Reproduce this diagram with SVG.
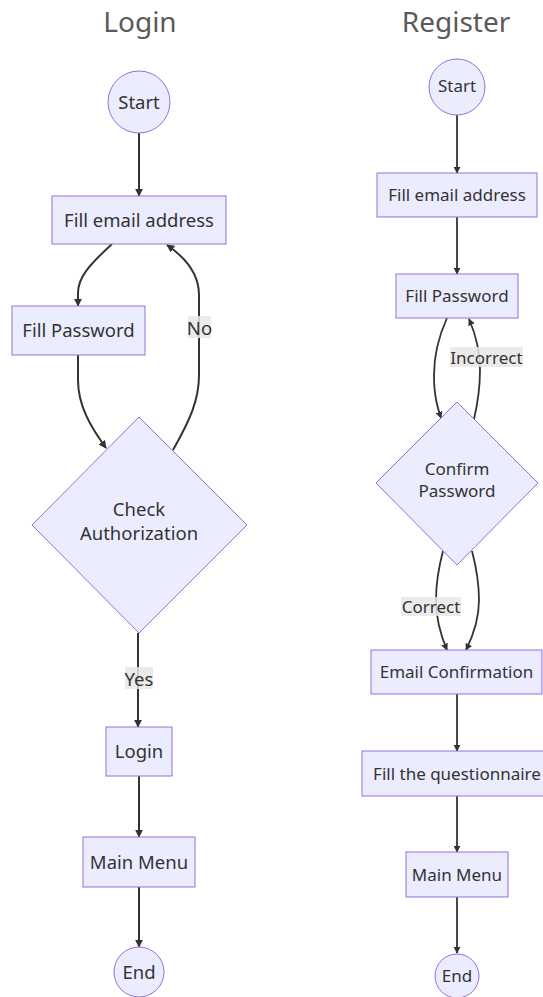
<svg xmlns="http://www.w3.org/2000/svg" width="543" height="997" viewBox="0 0 543 997">
  <style>
    .node { fill: #ECECFF; stroke: #9370DB; stroke-width: 1; }
    .edge { fill: none; stroke: #333333; stroke-width: 2; }
    .edge2 { fill: none; stroke: #333333; stroke-width: 1.8; }
    .lbl { font-family: "Noto Sans", "Open Sans", sans-serif; fill: #333333; text-anchor: middle; dominant-baseline: central; }
    .l16 { font-size: 18.5px; }
    .l15 { font-size: 17px; }
    .title { font-family: "Noto Sans", "Open Sans", sans-serif; font-size: 28px; fill: #5a5a5a; text-anchor: middle; }
    .ebg { fill: #e8e8e8; opacity: 0.85; }
  </style>
  <defs>
    <marker id="arrow" viewBox="0 0 10 10" refX="9" refY="5" markerUnits="userSpaceOnUse" markerWidth="8" markerHeight="8" orient="auto">
      <path d="M0,0 L10,5 L0,10 z" fill="#333333"/>
    </marker>
    <marker id="arrowSm" viewBox="0 0 10 10" refX="9" refY="5" markerUnits="userSpaceOnUse" markerWidth="7" markerHeight="7" orient="auto">
      <path d="M0,0 L10,5 L0,10 z" fill="#333333"/>
    </marker>
  </defs>

  <rect width="543" height="997" fill="#ffffff"/>

  <!-- Titles -->
  <text class="title" x="140" y="32">Login</text>
  <text class="title" x="456" y="32">Register</text>

  <!-- Login flow connectors -->
  <g id="login-edges">
    <path class="edge" d="M139,133 L139,196" marker-end="url(#arrow)"/>
    <path class="edge" d="M112,244 C88,266 78,278 78,293 L78,306" marker-end="url(#arrow)"/>
    <path class="edge" d="M78,355 L78,380 C78,405 90,426 106,448" marker-end="url(#arrow)"/>
    <path class="edge" d="M173,450 C190,420 199,400 199,375 L199,295 C199,274 186,258 167,245" marker-end="url(#arrow)"/>
    <path class="edge" d="M138,633 L138,727" marker-end="url(#arrow)"/>
    <path class="edge" d="M139,776 L139,837" marker-end="url(#arrow)"/>
    <path class="edge" d="M139,887 L139,947" marker-end="url(#arrow)"/>
    <rect class="ebg" x="188" y="316" width="23" height="22"/>
    <text class="lbl l16" x="199.5" y="327">No</text>
    <rect class="ebg" x="125" y="667" width="28" height="22"/>
    <text class="lbl l16" x="139" y="678">Yes</text>
  </g>

  <!-- Login flow nodes -->
  <g id="login-start">
    <circle class="node" cx="139" cy="102" r="31"/>
    <text class="lbl l16" x="139" y="101">Start</text>
  </g>
  <g id="login-email">
    <rect class="node" x="52" y="196" width="174" height="48"/>
    <text class="lbl l16" x="139" y="219">Fill email address</text>
  </g>
  <g id="login-password">
    <rect class="node" x="12" y="306" width="133" height="49"/>
    <text class="lbl l16" x="78.5" y="329">Fill Password</text>
  </g>
  <g id="login-check">
    <polygon class="node" points="139,417 247,525 139,633 32,525"/>
    <text class="lbl l16" x="139" y="508">Check</text>
    <text class="lbl l16" x="139" y="532">Authorization</text>
  </g>
  <g id="login-login">
    <rect class="node" x="106" y="727" width="66" height="49"/>
    <text class="lbl l16" x="139" y="750">Login</text>
  </g>
  <g id="login-menu">
    <rect class="node" x="83" y="837" width="112" height="50"/>
    <text class="lbl l16" x="139" y="861">Main Menu</text>
  </g>
  <g id="login-end">
    <circle class="node" cx="139" cy="972" r="25"/>
    <text class="lbl l16" x="139" y="971">End</text>
  </g>

  <!-- Register flow connectors -->
  <g id="register-edges">
    <path class="edge2" d="M457,115 L457,173" marker-end="url(#arrowSm)"/>
    <path class="edge2" d="M457,217 L457,274" marker-end="url(#arrowSm)"/>
    <path class="edge2" d="M447,318 C438,338 434,355 434,375 C434,395 437,406 441,418" marker-end="url(#arrowSm)"/>
    <path class="edge2" d="M474,419 C478,402 480,390 480,370 C480,350 476,335 469,319" marker-end="url(#arrowSm)"/>
    <path class="edge2" d="M443,551 C438,570 436,585 436,600 C436,620 441,636 447,650" marker-end="url(#arrowSm)"/>
    <path class="edge2" d="M472,551 C477,570 479,585 479,600 C479,620 473,636 466,650" marker-end="url(#arrowSm)"/>
    <path class="edge2" d="M457,694 L457,751" marker-end="url(#arrowSm)"/>
    <path class="edge2" d="M457,796 L457,852" marker-end="url(#arrowSm)"/>
    <path class="edge2" d="M457,897 L457,953" marker-end="url(#arrowSm)"/>
    <rect class="ebg" x="450" y="347" width="73" height="20"/>
    <text class="lbl l15" x="486.5" y="357">Incorrect</text>
    <rect class="ebg" x="401" y="597" width="60" height="19"/>
    <text class="lbl l15" x="431" y="606">Correct</text>
  </g>

  <!-- Register flow nodes -->
  <g id="register-start">
    <circle class="node" cx="457" cy="87" r="28"/>
    <text class="lbl l15" x="457" y="85">Start</text>
  </g>
  <g id="register-email">
    <rect class="node" x="377" y="173" width="160" height="44"/>
    <text class="lbl l15" x="457" y="194">Fill email address</text>
  </g>
  <g id="register-password">
    <rect class="node" x="396" y="274" width="122" height="44"/>
    <text class="lbl l15" x="457" y="295">Fill Password</text>
  </g>
  <g id="register-confirm">
    <polygon class="node" points="457,402 538,483 457,565 376,483"/>
    <text class="lbl l15" x="457" y="468">Confirm</text>
    <text class="lbl l15" x="457" y="490">Password</text>
  </g>
  <g id="register-confirmation">
    <rect class="node" x="371" y="650" width="171" height="44"/>
    <text class="lbl l15" x="456.5" y="671">Email Confirmation</text>
  </g>
  <g id="register-questionnaire">
    <rect class="node" x="362" y="751" width="190" height="45"/>
    <text class="lbl l15" x="457" y="773">Fill the questionnaire</text>
  </g>
  <g id="register-menu">
    <rect class="node" x="406" y="852" width="102" height="45"/>
    <text class="lbl l15" x="457" y="874">Main Menu</text>
  </g>
  <g id="register-end">
    <circle class="node" cx="457" cy="976" r="22"/>
    <text class="lbl l15" x="457" y="975">End</text>
  </g>
</svg>
